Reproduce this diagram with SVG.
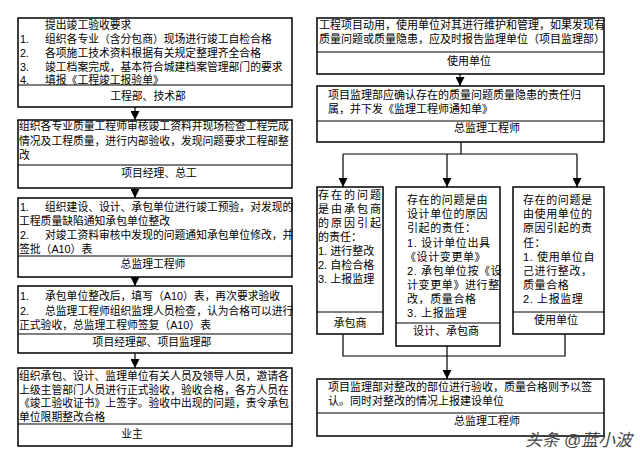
<svg xmlns="http://www.w3.org/2000/svg" width="640" height="459" viewBox="0 0 640 459">
<defs>
<marker id="ah" markerWidth="9" markerHeight="9" refX="9" refY="4.5" orient="auto" markerUnits="userSpaceOnUse"><path d="M0,0 L9,4.5 L0,9 z" fill="#000"/></marker>
<style>
.b{fill:#fff;stroke:#000;stroke-width:1.5}
.d{stroke:#000;stroke-width:1.2}
text{font-family:"Liberation Sans","Noto Sans CJK SC",sans-serif;fill:#000}
.l{font-size:10.8px}
.r{font-size:11px}
.c{text-anchor:middle}
.w{letter-spacing:2px}
.s{letter-spacing:0.6px}
.cn line,.cn path{stroke:#000;stroke-width:1.2;fill:none}
</style>
</defs>
<rect width="640" height="459" fill="#fff"/>

<g id="n1" class="l">
<rect class="b" x="18" y="18" width="274" height="89"/>
<line class="d" x1="18" y1="85" x2="292" y2="85"/>
<text x="45" y="29">提出竣工验收要求</text>
<text x="20" y="43">1.</text><text x="45" y="43">组织各专业（含分包商）现场进行竣工自检合格</text>
<text x="20" y="57">2.</text><text x="45" y="57">各项施工技术资料根据有关规定整理齐全合格</text>
<text x="20" y="70.5">3.</text><text x="45" y="70.5">竣工档案完成，基本符合城建档案管理部门的要求</text>
<text x="20" y="84">4.</text><text x="45" y="84">填报《工程竣工报验单》</text>
<text class="c" x="148" y="100">工程部、技术部</text>
</g>

<g id="n2" class="l">
<rect class="b" x="18" y="120" width="274" height="68"/>
<line class="d" x1="18" y1="165" x2="292" y2="165"/>
<text x="19" y="130">组织各专业质量工程师审核竣工资料并现场检查工程完成</text>
<text x="19" y="145">情况及工程质量，进行内部验收，发现问题要求工程部整</text>
<text x="19" y="159">改</text>
<text class="c" x="159" y="177">项目经理、总工</text>
</g>

<g id="n3" class="l">
<rect class="b" x="18" y="198" width="274" height="79"/>
<line class="d" x1="18" y1="256" x2="292" y2="256"/>
<text x="20" y="211">1.</text><text x="45" y="211">组织建设、设计、承包单位进行竣工预验，对发现的</text>
<text x="19" y="224.5">工程质量缺陷通知承包单位整改</text>
<text x="20" y="239">2.</text><text x="45" y="239">对竣工资料审核中发现的问题通知承包单位修改，并</text>
<text x="19" y="252.5">签批（A10）表</text>
<text class="c" x="153" y="268">总监理工程师</text>
</g>

<g id="n4" class="l">
<rect class="b" x="18" y="286" width="274" height="67"/>
<line class="d" x1="18" y1="334" x2="292" y2="334"/>
<text x="20" y="300">1.</text><text x="45" y="300">承包单位整改后，填写（A10）表，再次要求验收</text>
<text x="20" y="314.5">2.</text><text x="45" y="314.5">总监理工程师组织监理人员检查，认为合格可以进行</text>
<text x="19" y="328.5">正式验收，总监理工程师签复（A10）表</text>
<text class="c" x="152" y="346">项目经理部、项目监理部</text>
</g>

<g id="n5" class="l">
<rect class="b" x="18" y="368" width="274" height="78"/>
<line class="d" x1="18" y1="424" x2="292" y2="424"/>
<text x="19" y="380">组织承包、设计、监理单位有关人员及领导人员，邀请各</text>
<text x="19" y="393.5">上级主管部门人员进行正式验收，验收合格，各方人员在</text>
<text x="19" y="407">《竣工验收证书》上签字。验收中出现的问题，责令承包</text>
<text x="19" y="420.5">单位限期整改合格</text>
<text class="c" x="132" y="438">业主</text>
</g>

<g id="n6" class="r">
<rect class="b" x="317" y="18" width="287" height="56"/>
<line class="d" x1="317" y1="52" x2="604" y2="52"/>
<text x="319" y="28.5">工程项目动用，使用单位对其进行维护和管理，如果发现有</text>
<text x="319" y="42.5">质量问题或质量隐患，应及时报告监理单位（项目监理部）</text>
<text class="c" x="469" y="65">使用单位</text>
</g>

<g id="n7" class="r">
<rect class="b" x="317" y="86" width="287" height="56"/>
<line class="d" x1="317" y1="121" x2="604" y2="121"/>
<text x="328" y="98.5">项目监理部应确认存在的质量问题质量隐患的责任归</text>
<text x="328" y="112.5">属，并下发《监理工程师通知单》</text>
<text class="c" x="487" y="132">总监理工程师</text>
</g>

<g id="n8" class="r">
<rect class="b" x="317" y="187" width="66" height="147"/>
<line class="d" x1="317" y1="312" x2="383" y2="312"/>
<text class="w" x="318" y="199">存在的问题</text>
<text class="w" x="318" y="213">是由承包商</text>
<text class="w" x="318" y="227">的原因引起</text>
<text x="318" y="241">的责任：</text>
<text x="318" y="255">1. 进行整改</text>
<text x="318" y="269">2. 自检合格</text>
<text x="318" y="283">3. 上报监理</text>
<text class="c" x="350" y="327">承包商</text>
</g>

<g id="n9" class="r">
<rect class="b" x="396" y="187" width="104" height="159"/>
<line class="d" x1="396" y1="323" x2="500" y2="323"/>
<text class="s" x="407" y="204">存在的问题是由</text>
<text class="s" x="407" y="218">设计单位的原因</text>
<text class="s" x="407" y="232">引起的责任：</text>
<text class="s" x="407" y="247">1. 设计单位出具</text>
<text class="s" x="405" y="261">《设计变更单》</text>
<text class="s" x="407" y="275">2. 承包单位按《设</text>
<text class="s" x="407" y="289">计变更单》进行整</text>
<text class="s" x="407" y="303">改，质量合格</text>
<text class="s" x="407" y="317">3. 上报监理</text>
<text class="c" x="446" y="335">设计、承包商</text>
</g>

<g id="n10" class="r">
<rect class="b" x="513" y="187" width="91" height="147"/>
<line class="d" x1="513" y1="312" x2="604" y2="312"/>
<text class="s" x="523" y="204">存在的问题是</text>
<text class="s" x="523" y="218">由使用单位的</text>
<text class="s" x="523" y="232">原因引起的责</text>
<text class="s" x="523" y="247">任：</text>
<text class="s" x="523" y="261">1. 使用单位自</text>
<text class="s" x="523" y="275">己进行整改，</text>
<text class="s" x="523" y="289">质量合格</text>
<text class="s" x="523" y="303">2. 上报监理</text>
<text class="c" x="556" y="324">使用单位</text>
</g>

<g id="n11" class="r">
<rect class="b" x="317" y="379" width="287" height="57"/>
<line class="d" x1="317" y1="413" x2="604" y2="413"/>
<text x="328" y="391">项目监理部对整改的部位进行验收，质量合格则予以签</text>
<text x="328" y="405">认。同时对整改的情况上报建设单位</text>
<text class="c" x="487" y="425">总监理工程师</text>
</g>

<g id="connectors" class="cn">
<line x1="135" y1="107" x2="135" y2="120" marker-end="url(#ah)"/>
<line x1="135" y1="188" x2="135" y2="198" marker-end="url(#ah)"/>
<line x1="135" y1="277" x2="135" y2="286" marker-end="url(#ah)"/>
<line x1="135" y1="353" x2="135" y2="368" marker-end="url(#ah)"/>
<line x1="460" y1="74" x2="460" y2="86" marker-end="url(#ah)"/>
<path d="M461,142 V154 M343,154 H577"/>
<line x1="343" y1="154" x2="343" y2="187" marker-end="url(#ah)"/>
<line x1="447" y1="154" x2="447" y2="187" marker-end="url(#ah)"/>
<line x1="577" y1="154" x2="577" y2="187" marker-end="url(#ah)"/>
<path d="M343,334 V356 H565 V334 M447,346 V356"/>
<line x1="447" y1="356" x2="447" y2="379" marker-end="url(#ah)"/>
</g>

<text x="525" y="446" style="font-size:17px;fill:#444;font-style:italic">头条 @蓝小波</text>
</svg>
